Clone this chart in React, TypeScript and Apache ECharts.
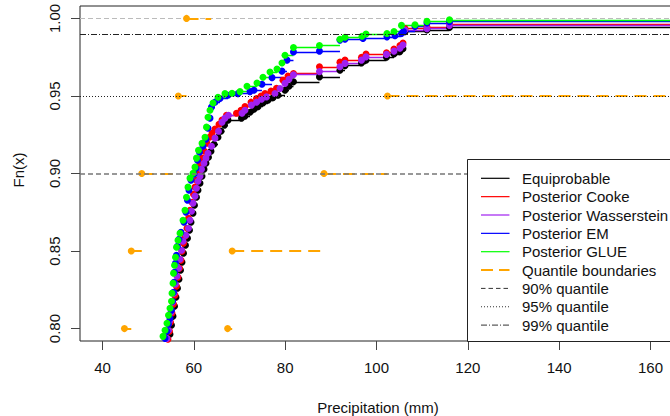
import React, { useEffect, useRef } from "react";
import * as echarts from "echarts";

// ---------- data ----------
const X_TICKS = [40, 60, 80, 100, 120, 140, 160];
const Y_TICKS = [0.8, 0.85, 0.9, 0.95, 1.0];
const X_RANGE = [35.073, 166.9];
const Y_RANGE = [0.792, 1.008];

// ECDF knots [precipitation, Fn(x)]
const EQUIPROBABLE: [number, number][] = [
  [54.56, 0.7918], [54.78, 0.7963], [55.11, 0.8021], [55.44, 0.8079], [55.77, 0.8144], [56.09, 0.8202],
  [56.42, 0.826], [56.75, 0.8318], [57.08, 0.8376], [57.41, 0.8428], [57.74, 0.8486], [58.17, 0.8537],
  [58.61, 0.8583], [59.05, 0.8634], [59.38, 0.8686], [59.82, 0.8744], [60.14, 0.8795], [60.58, 0.8847],
  [60.91, 0.8892], [61.35, 0.8937], [61.79, 0.8983], [62.23, 0.9028], [62.66, 0.9066], [63.21, 0.9105],
  [63.76, 0.9144], [64.42, 0.9189], [65.29, 0.9234], [65.95, 0.9273], [66.71, 0.9312], [67.48, 0.9344],
  [70.44, 0.9357], [71.2, 0.937], [72.3, 0.9395], [73.17, 0.9415], [74.05, 0.9431], [75.14, 0.9454],
  [76.24, 0.9473], [77.33, 0.9489], [78.43, 0.9505], [79.96, 0.9537], [80.84, 0.9563], [81.82, 0.9591],
  [87.51, 0.9623], [92.0, 0.9666], [93.1, 0.9695], [96.71, 0.9712], [97.7, 0.9731], [102.19, 0.975],
  [103.83, 0.977], [105.14, 0.9786], [105.8, 0.9805], [106.24, 0.9914], [111.05, 0.9925], [115.98, 0.9941],
];
const COOKE: [number, number][] = [
  [54.34, 0.7931], [54.67, 0.7983], [54.89, 0.8041], [55.22, 0.8099], [55.55, 0.8157], [55.88, 0.8215],
  [56.2, 0.8273], [56.53, 0.8331], [56.86, 0.8389], [57.19, 0.8441], [57.41, 0.8499], [57.74, 0.855],
  [58.06, 0.8595], [58.5, 0.8647], [58.83, 0.8712], [59.16, 0.8763], [59.6, 0.8815], [59.93, 0.8866],
  [60.25, 0.8912], [60.58, 0.8957], [61.02, 0.9008], [61.35, 0.906], [61.79, 0.9099], [62.33, 0.9144],
  [62.88, 0.9195], [63.43, 0.9234], [63.98, 0.926], [64.63, 0.9286], [65.51, 0.9318], [66.17, 0.9344],
  [67.15, 0.9376], [69.34, 0.9389], [70.33, 0.9408], [71.2, 0.9431], [72.52, 0.946], [73.72, 0.9484],
  [74.71, 0.9499], [75.58, 0.9516], [76.9, 0.9531], [78.1, 0.955], [79.52, 0.9602], [80.62, 0.9628],
  [81.82, 0.9644], [87.51, 0.9688], [92.0, 0.9718], [93.1, 0.9731], [96.71, 0.975], [97.7, 0.977],
  [102.19, 0.9779], [103.83, 0.9802], [105.14, 0.9825], [105.8, 0.9841], [106.24, 0.9934], [111.05, 0.9944],
  [115.98, 0.9963],
];
const WASSERSTEIN: [number, number][] = [
  [54.12, 0.7937], [54.45, 0.7989], [54.67, 0.8047], [55.0, 0.8105], [55.33, 0.817], [55.66, 0.8228],
  [55.98, 0.8286], [56.31, 0.8337], [56.64, 0.8389], [56.97, 0.8447], [57.3, 0.8505], [57.63, 0.8563],
  [58.28, 0.8602], [58.83, 0.8647], [59.16, 0.8699], [59.49, 0.8757], [59.82, 0.8808], [60.25, 0.8854],
  [60.58, 0.8905], [60.91, 0.895], [61.35, 0.8983], [61.68, 0.9028], [62.23, 0.9066], [62.66, 0.9099],
  [63.1, 0.9131], [63.87, 0.9176], [64.63, 0.9228], [65.4, 0.9273], [66.17, 0.9331], [66.82, 0.9357],
  [67.59, 0.9376], [70.55, 0.9389], [71.2, 0.9408], [72.63, 0.9441], [73.72, 0.946], [74.82, 0.9479],
  [75.91, 0.9494], [77.77, 0.9516], [78.87, 0.9548], [79.96, 0.9581], [80.84, 0.9608], [81.82, 0.9637],
  [87.51, 0.9657], [92.0, 0.9688], [93.1, 0.971], [96.71, 0.9731], [97.7, 0.9752], [102.19, 0.9768],
  [103.83, 0.9789], [105.14, 0.9808], [105.8, 0.9828], [106.24, 0.9925], [111.05, 0.9934], [115.98, 0.9954],
];
const EM: [number, number][] = [
  [53.69, 0.7937], [54.12, 0.7983], [54.45, 0.8028], [54.78, 0.8066], [55.11, 0.8118], [55.33, 0.8176],
  [55.55, 0.8234], [55.66, 0.8299], [55.77, 0.8363], [55.98, 0.8421], [56.2, 0.8473], [56.42, 0.8531],
  [56.75, 0.8576], [57.19, 0.8621], [57.84, 0.8686], [58.28, 0.875], [58.61, 0.8828], [58.94, 0.8892],
  [59.38, 0.8957], [60.04, 0.8995], [60.47, 0.9034], [60.8, 0.9086], [61.24, 0.9137], [62.01, 0.9176],
  [62.66, 0.9221], [63.1, 0.9292], [63.54, 0.9357], [63.87, 0.9428], [64.63, 0.946], [65.73, 0.9483],
  [67.48, 0.9505], [69.67, 0.9515], [72.3, 0.9528], [73.17, 0.9537], [74.92, 0.9576], [77.12, 0.9618],
  [79.3, 0.966], [80.4, 0.9731], [81.82, 0.9783], [87.51, 0.9789], [92.0, 0.986], [93.1, 0.9866],
  [97.04, 0.9871], [102.29, 0.9881], [104.05, 0.9888], [105.47, 0.9903], [105.91, 0.9916], [108.43, 0.9948],
  [111.05, 0.997], [115.98, 0.9979],
];
const GLUE: [number, number][] = [
  [53.25, 0.795], [53.69, 0.7989], [54.12, 0.8034], [54.45, 0.8086], [54.78, 0.8131], [55.11, 0.8176],
  [55.22, 0.8228], [55.44, 0.8292], [55.55, 0.8357], [55.77, 0.8408], [55.98, 0.846], [56.2, 0.8525],
  [56.53, 0.857], [56.97, 0.8615], [57.63, 0.8699], [58.06, 0.8763], [58.39, 0.8847], [58.72, 0.8912],
  [59.16, 0.897], [59.82, 0.9002], [60.25, 0.9041], [60.58, 0.9099], [61.02, 0.915], [61.79, 0.9195],
  [62.45, 0.9234], [62.77, 0.9299], [63.1, 0.9363], [63.54, 0.9408], [64.2, 0.9454], [65.29, 0.9492],
  [66.82, 0.9515], [68.36, 0.9518], [70.11, 0.9528], [71.64, 0.9563], [73.83, 0.9583], [75.14, 0.9621],
  [76.68, 0.9654], [78.21, 0.9673], [79.3, 0.9712], [79.96, 0.9763], [81.82, 0.9812], [87.51, 0.9825],
  [92.0, 0.9866], [93.1, 0.9879], [96.82, 0.9885], [97.7, 0.9899], [102.29, 0.9903], [103.83, 0.9915],
  [105.47, 0.9955], [108.43, 0.9959], [111.05, 0.9981], [115.98, 0.9991],
];

// quantile boundaries (step functions)
const LOWER_BOUNDARY: [number, number][] = [[44.8, 0.8], [46.3, 0.85], [48.6, 0.9], [56.6, 0.95], [58.4, 1.0]];
const LOWER_BOUNDARY_END = 63.8;
const UPPER_BOUNDARY: [number, number][] = [[67.4, 0.8], [68.4, 0.85], [88.5, 0.9], [102.4, 0.95]];
const QUANTILE_LEVELS = [0.9, 0.95, 0.99];
const ECDF_TOP = 1.0;

const SERIES_NAMES = ["Equiprobable", "Posterior Cooke", "Posterior Wasserstein", "Posterior EM", "Posterior GLUE"];
const SERIES_COLORS = ["#000000", "#FF0000", "#A020F0", "#0000FF", "#00FF00"];
const LEGEND_LABELS = [...SERIES_NAMES, "Quantile boundaries", "90% quantile", "95% quantile", "99% quantile"];

const FONT = "'Liberation Sans', Arial, Helvetica, sans-serif";

const QUANT_STYLES = [
  { color: "#777777", width: 1.5, type: [5, 3] },
  { color: "#222222", width: 1.2, type: [1, 2] },
  { color: "#222222", width: 1.2, type: [6, 2, 1, 2] },
];
const LEGEND_LINE_STYLES = [
  { stroke: SERIES_COLORS[0], lineWidth: 1.2, lineDash: null },
  { stroke: SERIES_COLORS[1], lineWidth: 1.2, lineDash: null },
  { stroke: SERIES_COLORS[2], lineWidth: 1.2, lineDash: null },
  { stroke: SERIES_COLORS[3], lineWidth: 1.2, lineDash: null },
  { stroke: SERIES_COLORS[4], lineWidth: 1.2, lineDash: null },
  { stroke: "#FFA500", lineWidth: 2, lineDash: [12, 6] },
  { stroke: "#333333", lineWidth: 1, lineDash: [4.5, 3] },
  { stroke: "#333333", lineWidth: 1, lineDash: [1, 2] },
  { stroke: "#333333", lineWidth: 1, lineDash: [6, 2, 1, 2] },
];

function steps(points: [number, number][], xEnd: number) {
  return points.map((p, i) => ({
    coords: [
      [p[0], p[1]],
      [i < points.length - 1 ? points[i + 1][0] : xEnd, p[1]],
    ],
  }));
}

export default function App() {
  const ref = useRef<HTMLDivElement>(null);
  useEffect(() => {
    if (!ref.current) return;
    const chart = echarts.init(ref.current, undefined, { renderer: "svg" });
    const curves = [EQUIPROBABLE, COOKE, WASSERSTEIN, EM, GLUE];
    const series: any[] = [];

    // reference line at Fn = 1
    series.push({
      type: "lines",
      coordinateSystem: "cartesian2d",
      polyline: false,
      silent: true,
      z: 1,
      lineStyle: { color: "#bbbbbb", width: 1, type: [5, 3], opacity: 1 },
      data: [{ coords: [[X_RANGE[0], ECDF_TOP], [X_RANGE[1], ECDF_TOP]] }],
    });

    curves.forEach((pts, k) => {
      series.push({
        type: "lines",
        coordinateSystem: "cartesian2d",
        polyline: false,
        silent: true,
        z: 2,
        lineStyle: { color: SERIES_COLORS[k], width: 1.3, opacity: 1 },
        data: steps(pts, X_RANGE[1]),
      });
      series.push({
        type: "scatter",
        name: SERIES_NAMES[k],
        silent: true,
        z: 2,
        symbol: "circle",
        symbolSize: 7,
        itemStyle: { color: SERIES_COLORS[k], opacity: 1 },
        data: pts,
      });
    });

    // quantile boundaries
    series.push({
      type: "lines",
      coordinateSystem: "cartesian2d",
      polyline: false,
      silent: true,
      z: 3,
      lineStyle: { color: "#FFA500", width: 2, type: [12, 7], opacity: 1 },
      data: [...steps(LOWER_BOUNDARY, LOWER_BOUNDARY_END), ...steps(UPPER_BOUNDARY, X_RANGE[1])],
    });
    series.push({
      type: "scatter",
      silent: true,
      z: 3,
      symbolSize: 7,
      itemStyle: { color: "#FFA500", opacity: 1 },
      data: [...LOWER_BOUNDARY, ...UPPER_BOUNDARY],
    });

    // quantile levels
    QUANTILE_LEVELS.forEach((q, i) => {
      series.push({
        type: "lines",
        coordinateSystem: "cartesian2d",
        polyline: false,
        silent: true,
        z: 4,
        lineStyle: { ...QUANT_STYLES[i], opacity: 1 },
        data: [{ coords: [[X_RANGE[0], q], [X_RANGE[1], q]] }],
      });
    });

    // legend drawn as graphic
    const LX = 467.5, LY = 159.5, ROW0 = 178.3, ROWH = 18.35;
    const legendEls: any[] = [
      {
        type: "rect",
        z: 100,
        shape: { x: LX, y: LY, width: 300, height: 182 },
        style: { fill: "#ffffff", stroke: "#222222", lineWidth: 1 },
      },
    ];
    LEGEND_LABELS.forEach((label, i) => {
      const y = ROW0 + i * ROWH;
      const ls = LEGEND_LINE_STYLES[i];
      legendEls.push({
        type: "line",
        z: 101,
        shape: { x1: 481, y1: y, x2: 509.5, y2: y },
        style: { stroke: ls.stroke, lineWidth: ls.lineWidth, lineDash: ls.lineDash || undefined },
      });
      legendEls.push({
        type: "text",
        z: 101,
        x: 522,
        y: y,
        style: {
          text: label,
          font: `15px ${FONT}`,
          fill: "#111111",
          textAlign: "left",
          textVerticalAlign: "middle",
        },
      });
    });

    const option: any = {
      animation: false,
      backgroundColor: "#ffffff",
      grid: {
        show: true,
        left: 80,
        top: 6,
        width: 602,
        height: 335,
        borderColor: "#222222",
        borderWidth: 1,
        backgroundColor: "transparent",
        containLabel: false,
        outerBoundsMode: "none",
      },
      xAxis: {
        type: "value",
        min: X_RANGE[0],
        max: X_RANGE[1],
        axisLine: { show: false },
        splitLine: { show: false },
        axisTick: { show: true, length: 9, lineStyle: { color: "#444444" }, customValues: X_TICKS },
        axisLabel: {
          customValues: X_TICKS,
          margin: 19,
          fontSize: 15,
          fontFamily: FONT,
          color: "#111111",
        },
      },
      yAxis: {
        type: "value",
        min: Y_RANGE[0],
        max: Y_RANGE[1],
        axisLine: { show: false },
        splitLine: { show: false },
        axisTick: { show: true, length: 9, lineStyle: { color: "#444444" }, customValues: Y_TICKS },
        axisLabel: {
          customValues: Y_TICKS,
          rotate: 90,
          margin: 18,
          fontSize: 15,
          fontFamily: FONT,
          color: "#111111",
          formatter: (v: number) => v.toFixed(2),
        },
      },
      graphic: [
        {
          type: "text",
          x: 378,
          y: 407,
          style: {
            text: "Precipitation (mm)",
            font: `15px ${FONT}`,
            fill: "#111111",
            textAlign: "center",
            textVerticalAlign: "middle",
          },
        },
        {
          type: "text",
          x: 18.5,
          y: 170,
          rotation: Math.PI / 2,
          style: {
            text: "Fn(x)",
            font: `15px ${FONT}`,
            fill: "#111111",
            textAlign: "center",
            textVerticalAlign: "middle",
          },
        },
        ...legendEls,
      ],
      series,
    };
    chart.setOption(option);
    return () => chart.dispose();
  }, []);

  return (
    <div
      ref={ref}
      style={{ position: "fixed", left: 0, top: 0, width: 670, height: 416, background: "#fff" }}
    />
  );
}
